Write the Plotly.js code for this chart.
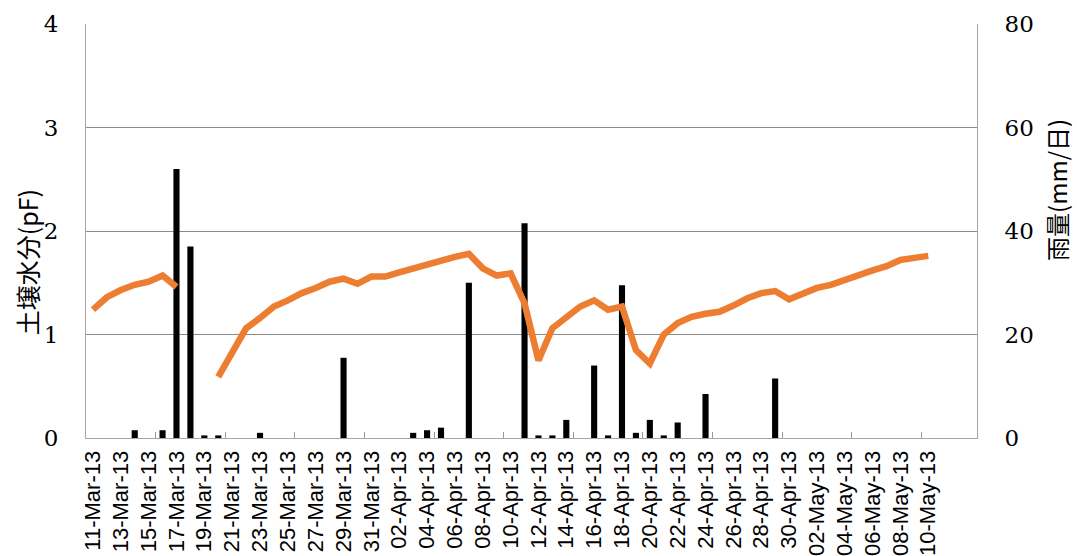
<!DOCTYPE html>
<html>
<head>
<meta charset="utf-8">
<script src="https://cdn.plot.ly/plotly-3.0.1.min.js"></script>
<style>html,body{margin:0;padding:0;background:#fff;}#chart{width:1077px;height:556px;}</style>
</head>
<body>
<div id="chart"></div>
<script>
// Soil moisture (pF), daily, 11-Mar-2013 .. 10-May-2013
const soilDates = [
  '2013-03-11','2013-03-12','2013-03-13','2013-03-14','2013-03-15','2013-03-16','2013-03-17','2013-03-18','2013-03-19','2013-03-20',
  '2013-03-21','2013-03-22','2013-03-23','2013-03-24','2013-03-25','2013-03-26','2013-03-27','2013-03-28','2013-03-29','2013-03-30','2013-03-31',
  '2013-04-01','2013-04-02','2013-04-03','2013-04-04','2013-04-05','2013-04-06','2013-04-07','2013-04-08','2013-04-09','2013-04-10',
  '2013-04-11','2013-04-12','2013-04-13','2013-04-14','2013-04-15','2013-04-16','2013-04-17','2013-04-18','2013-04-19','2013-04-20',
  '2013-04-21','2013-04-22','2013-04-23','2013-04-24','2013-04-25','2013-04-26','2013-04-27','2013-04-28','2013-04-29','2013-04-30',
  '2013-05-01','2013-05-02','2013-05-03','2013-05-04','2013-05-05','2013-05-06','2013-05-07','2013-05-08','2013-05-09','2013-05-10'
];
const soilPF = [
  1.24,1.36,1.43,1.48,1.51,1.57,1.46,null,null,0.59,
  0.83,1.06,1.16,1.27,1.33,1.40,1.45,1.51,1.54,1.49,1.56,
  1.56,1.60,1.64,1.67,1.71,1.75,1.78,1.64,1.57,1.59,
  1.30,0.75,1.06,1.17,1.27,1.33,1.24,1.27,0.85,0.72,
  1.00,1.11,1.17,1.20,1.22,1.28,1.35,1.40,1.42,1.34,
  1.40,1.45,1.48,1.53,1.58,1.62,1.66,1.72,1.74,1.76
];
// Rainfall (mm/day)
const rainDates = [
  '2013-03-14','2013-03-16','2013-03-17','2013-03-18','2013-03-19','2013-03-20','2013-03-23','2013-03-29',
  '2013-04-03','2013-04-04','2013-04-05','2013-04-07','2013-04-11','2013-04-12','2013-04-13','2013-04-14',
  '2013-04-16','2013-04-17','2013-04-18','2013-04-19','2013-04-20','2013-04-21','2013-04-22','2013-04-24','2013-04-29'
];
const rainMm = [
  1.5,1.5,52,37,0.5,0.5,1.0,15.5,
  1.0,1.5,2.0,30,41.5,0.5,0.5,3.5,
  14,0.5,29.5,1.0,3.5,0.5,3.0,8.5,11.5
];
// x tick labels: every second day, 11-Mar .. 10-May
const xTickDates = soilDates.filter((d, i) => i % 2 === 0);
const leftTitle = '土壌水分(pF)';
const rightTitle = '雨量(mm/日)';

const gridColor = '#8c8c8c';
const axisColor = '#a6a6a6';
const DAY = 86400000;
const serif = "'DejaVu Serif', 'Liberation Serif', serif";

// tick-mark positions (slot boundaries every 5 days)
const markTicks = [];
for (let t = Date.UTC(2013, 2, 15, 12); t <= Date.UTC(2013, 4, 13, 12); t += 5 * DAY) {
  const d = new Date(t);
  markTicks.push(d.toISOString().slice(0, 10) + ' 12:00');
}

const traces = [
  {
    type: 'bar', x: rainDates, y: rainMm, yaxis: 'y', xaxis: 'x',
    marker: {color: '#000000', line: {width: 0}},
    width: 0.44 * DAY, name: rightTitle
  },
  {
    type: 'scatter', mode: 'lines', x: soilDates, y: soilPF, yaxis: 'y2', xaxis: 'x',
    line: {color: '#ED7D31', width: 6.5, shape: 'linear'},
    connectgaps: false, name: leftTitle
  }
];

const layout = {
  width: 1077, height: 556,
  margin: {l: 86, r: 100, t: 24, b: 118, pad: 0},
  paper_bgcolor: '#ffffff', plot_bgcolor: '#ffffff',
  showlegend: false,
  xaxis: {
    type: 'date',
    range: ['2013-03-10 12:00', '2013-05-13 12:00'],
    tickmode: 'array', tickvals: xTickDates,
    tickformat: '%d-%b-%y', tickangle: -90,
    ticks: 'inside', ticklen: 0, tickcolor: axisColor,
    showgrid: false, zeroline: false,
    showline: true, linecolor: axisColor, linewidth: 1,
    tickfont: {family: "'Liberation Sans', Arial, sans-serif", size: 22, color: '#000'},
    ticklabelstandoff: 3,
    minor: {tickmode: 'array', tickvals: markTicks, ticks: 'inside', ticklen: 6,
            tickcolor: '#999999', tickwidth: 1, showgrid: false}
  },
  yaxis: {
    side: 'right', range: [0, 80], dtick: 20, tick0: 0,
    showgrid: true, gridcolor: gridColor, gridwidth: 1, zeroline: false,
    showline: true, linecolor: axisColor, linewidth: 1,
    ticks: '', ticklabelstandoff: 22,
    tickfont: {family: serif, size: 23, color: '#000'}
  },
  yaxis2: {
    side: 'left', overlaying: 'y', range: [0, 4], dtick: 1, tick0: 0,
    showgrid: false, zeroline: false,
    showline: true, linecolor: axisColor, linewidth: 1,
    ticks: '', ticklabelstandoff: 22,
    tickfont: {family: serif, size: 23, color: '#000'}
  },
  annotations: [
    {text: leftTitle, xref: 'paper', yref: 'paper', x: -0.066, y: 0.425, textangle: -90,
     showarrow: false, xanchor: 'center', yanchor: 'middle', borderpad: 0,
     font: {family: "'Noto Sans CJK JP', sans-serif", size: 25, color: '#000'}},
    {text: rightTitle, xref: 'paper', yref: 'paper', x: 1.089, y: 0.6, textangle: -90,
     showarrow: false, xanchor: 'center', yanchor: 'middle', borderpad: 0,
     font: {family: "'Noto Sans CJK JP', sans-serif", size: 24, color: '#000'}}
  ]
};

Plotly.newPlot('chart', traces, layout, {displayModeBar: false, staticPlot: true});
</script>
</body>
</html>
